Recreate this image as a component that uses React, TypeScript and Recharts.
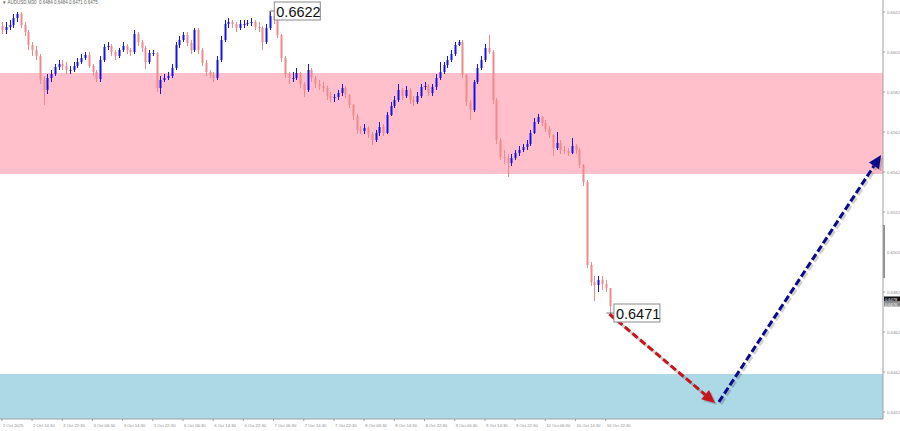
import { ComposedChart, Bar, XAxis, YAxis, ReferenceArea, ReferenceLine, ReferenceDot } from "recharts";

// AUDUSD 30-min candles, two bars per candle
const closes = [
  0.6613, 0.66145, 0.66155, 0.6619, 0.6621, 0.66155, 0.6612, 0.66055, 0.6603, 0.66,
  0.6588, 0.6583, 0.6589, 0.6591, 0.65945, 0.6596, 0.6595, 0.6593, 0.6593, 0.6595,
  0.6597, 0.6599, 0.66005, 0.6595, 0.6592, 0.65885, 0.6598, 0.66045, 0.6605, 0.6602,
  0.66, 0.6603, 0.6605, 0.6603, 0.6602, 0.6611, 0.6607, 0.6604, 0.6597, 0.66015,
  0.66015, 0.6584, 0.6588, 0.6589, 0.659, 0.6594, 0.66055, 0.6608, 0.66105, 0.66065,
  0.6603, 0.6613, 0.6603, 0.65965, 0.6592, 0.65905, 0.6589, 0.6598, 0.6608, 0.6616,
  0.6617, 0.6616, 0.6614, 0.6616, 0.6616, 0.66165, 0.6617, 0.66145, 0.6614, 0.6607,
  0.6614, 0.662, 0.6618, 0.66105, 0.6599, 0.6591, 0.6589, 0.6589, 0.65915, 0.6586,
  0.6583, 0.6593, 0.6589, 0.6586, 0.6585, 0.6584, 0.658, 0.6579, 0.65795, 0.65815,
  0.6584, 0.65805, 0.65755, 0.657, 0.6563, 0.65625, 0.6564, 0.6561, 0.6558, 0.65615,
  0.65645, 0.65615, 0.65705, 0.6575, 0.6578, 0.6583, 0.658, 0.6583, 0.6578, 0.6577,
  0.658, 0.65845, 0.6585, 0.65815, 0.65845, 0.6589, 0.6592, 0.65955, 0.6598, 0.6601,
  0.66055, 0.6607, 0.65905, 0.6577, 0.6573, 0.6587, 0.6594, 0.6598, 0.6604, 0.6602,
  0.6578, 0.6558, 0.65495, 0.6549, 0.65465, 0.6549, 0.65515, 0.6553, 0.65545, 0.6556,
  0.65615, 0.6567, 0.65695, 0.65665, 0.65635, 0.65605, 0.6554, 0.65565, 0.6553, 0.65525,
  0.65515, 0.6555, 0.6553, 0.65455, 0.6537, 0.64955, 0.6487, 0.64855, 0.6488, 0.6486,
  0.6484, 0.6475,
];

const highs = [
  0.6617, 0.6617, 0.6618, 0.6621, 0.6622, 0.6622, 0.6617, 0.6613, 0.6607, 0.6605,
  0.6601, 0.659, 0.6591, 0.6593, 0.6596, 0.6598, 0.6598, 0.6597, 0.6595, 0.6597,
  0.6599, 0.6601, 0.6602, 0.6602, 0.6596, 0.6593, 0.66, 0.6606, 0.6607, 0.6606,
  0.6603, 0.6604, 0.6607, 0.6606, 0.6604, 0.6613, 0.6612, 0.6608, 0.6605, 0.6603,
  0.6603, 0.6602, 0.659, 0.6591, 0.6592, 0.6596, 0.6607, 0.661, 0.6612, 0.6612,
  0.6608, 0.6614, 0.6614, 0.6604, 0.6598, 0.6593, 0.6592, 0.66, 0.661, 0.6618,
  0.6619, 0.6618, 0.6617, 0.6618, 0.6618, 0.6618, 0.6619, 0.6618, 0.6617, 0.6615,
  0.6616, 0.6622, 0.6621, 0.6619, 0.6611, 0.66, 0.6592, 0.6592, 0.6594, 0.6592,
  0.6587, 0.6596, 0.6594, 0.659, 0.6588, 0.6587, 0.6585, 0.6582, 0.6581, 0.6583,
  0.6586, 0.6585, 0.6581, 0.6576, 0.6571, 0.6565, 0.6566, 0.6565, 0.6562, 0.6563,
  0.6567, 0.6566, 0.6572, 0.6577, 0.658, 0.6586, 0.6584, 0.6585, 0.6584, 0.658,
  0.6582, 0.6586, 0.6587, 0.6586, 0.6586, 0.6591, 0.6597, 0.6597, 0.66, 0.6603,
  0.6607, 0.6608, 0.6608, 0.6591, 0.6578, 0.6588, 0.6596, 0.66, 0.6606, 0.66105,
  0.6603, 0.6579, 0.6559, 0.6553, 0.6551, 0.6551, 0.6553, 0.6555, 0.6556, 0.6558,
  0.6563, 0.6569, 0.6571, 0.657, 0.6568, 0.6565, 0.6561, 0.6562, 0.6558, 0.6555,
  0.6554, 0.6559, 0.6556, 0.6554, 0.6546, 0.6538, 0.6497, 0.649, 0.649, 0.649,
  0.6488, 0.6484,
];

const lows = [
  0.6611, 0.6611, 0.6613, 0.6614, 0.6617, 0.6614, 0.661, 0.6603, 0.66, 0.6598,
  0.6586, 0.65755, 0.6581, 0.6587, 0.659, 0.6593, 0.6593, 0.6591, 0.6591, 0.6592,
  0.6594, 0.6596, 0.6598, 0.6594, 0.659, 0.6587, 0.6587, 0.6597, 0.6603, 0.66,
  0.6598, 0.6599, 0.6602, 0.6601, 0.66, 0.6601, 0.6605, 0.6602, 0.65935, 0.6596,
  0.66, 0.6582, 0.6581, 0.6587, 0.6588, 0.6589, 0.6593, 0.6604, 0.6607, 0.6605,
  0.6601, 0.6602, 0.6601, 0.6595, 0.659, 0.6589, 0.6587, 0.6588, 0.6597, 0.6607,
  0.6614, 0.6614, 0.6612, 0.6613, 0.6614, 0.6615, 0.6615, 0.6613, 0.6612, 0.6603,
  0.6606, 0.6613, 0.6616, 0.6609, 0.6597, 0.6589, 0.6586, 0.6587, 0.6588, 0.6584,
  0.65795, 0.6582, 0.6587, 0.6584, 0.6583, 0.6582, 0.6578, 0.6577, 0.6577, 0.6578,
  0.658, 0.6579, 0.6574, 0.6568, 0.6561, 0.6561, 0.6561, 0.6559, 0.65555, 0.6557,
  0.656, 0.656, 0.6561, 0.657, 0.6574, 0.6577, 0.6578, 0.6579, 0.6576, 0.6575,
  0.6576, 0.6579, 0.6583, 0.658, 0.658, 0.6583, 0.6588, 0.6591, 0.6594, 0.6597,
  0.66, 0.6605, 0.6589, 0.6575, 0.6568, 0.6572, 0.6586, 0.6593, 0.6597, 0.6601,
  0.6576, 0.6556, 0.6548, 0.6546, 0.65395, 0.6545, 0.6548, 0.655, 0.6552, 0.6553,
  0.6555, 0.6561, 0.6566, 0.6565, 0.6562, 0.6559, 0.655, 0.6553, 0.6551, 0.6551,
  0.655, 0.6551, 0.6551, 0.6544, 0.6535, 0.6494, 0.6485, 0.64775, 0.6482, 0.6483,
  0.6482, 0.6471,
];

const firstOpen = 0.6615;
const totalSlots = 234;
const slotsPerLabel = 8;

const timeLabels = [
  "2 Oct 2025", "2 Oct 14:30", "2 Oct 22:30", "3 Oct 06:30", "3 Oct 14:30", "3 Oct 22:30",
  "6 Oct 06:30", "6 Oct 14:30", "6 Oct 22:30", "7 Oct 06:30", "7 Oct 14:30", "7 Oct 22:30",
  "8 Oct 06:30", "8 Oct 14:30", "8 Oct 22:30", "9 Oct 06:30", "9 Oct 14:30", "9 Oct 22:30",
  "10 Oct 06:30", "10 Oct 14:30", "10 Oct 22:30",
];

const priceTicks = [
  0.6422, 0.6432, 0.6442, 0.6452, 0.6462, 0.6472, 0.6482, 0.6492, 0.6502, 0.6512, 0.6522,
  0.6532, 0.6542, 0.6552, 0.6562, 0.6572, 0.6582, 0.6592, 0.6602, 0.6612, 0.6622,
];

const priceDomain = [0.64185, 0.6628];
const sellZone = [0.6541, 0.65915];
const buyZone = [0.64185, 0.6441];
const scrollMark = [0.6489, 0.65155];

const forecastDown = [{ slot: 161, price: 0.6471 }, { slot: 189, price: 0.64265 }];
const forecastUp = [{ slot: 190, price: 0.6427 }, { slot: 233, price: 0.65505 }];

const extremes = [
  { slot: 71, price: 0.6622, text: "0.6622", bend: true },
  { slot: 161, price: 0.6471, text: "0.6471", bend: false },
];

const priceMarks = [
  { price: 0.64785, text: "0.6478", bg: "#111111" },
  { price: 0.6476, text: "0.6476", bg: "#8c8c8c" },
];

const headerText = "\u25BC AUDUSD,M30  0.6484 0.6484 0.6471 0.6475";

const data = Array.from({ length: totalSlots }, (_, i) => {
  if (i < closes.length) {
    const open = i === 0 ? firstOpen : closes[i - 1];
    return { slot: i, open, close: closes[i], high: highs[i], low: lows[i], range: [lows[i], highs[i]] };
  }
  return { slot: i };
});

const tickSlots = timeLabels.map((_, i) => i * slotsPerLabel);
const lastSlot = totalSlots - 1;

const Candle = (props: any) => {
  const { x, y, width, height, payload } = props;
  if (!payload || payload.open == null || isNaN(y) || isNaN(height)) return null;
  const { open, close, high, low } = payload;
  const top = Math.min(y, y + height);
  const h = Math.abs(height);
  const k = h / (high - low || 1e-9);
  const cx = Math.round(x + width / 2) + 0.5;
  const yOf = (v: number) => top + (high - v) * k;
  const up = close >= open;
  const color = up ? "#1414e6" : "#f08a8a";
  const bt = yOf(Math.max(open, close));
  const bb = yOf(Math.min(open, close));
  return (
    <g>
      <line x1={cx} x2={cx} y1={top} y2={top + h} stroke={color} strokeWidth={1} />
      <rect x={cx - 1} y={bt} width={2} height={Math.max(1, bb - bt)} fill={color} />
    </g>
  );
};

const arrowShape = (color: string) => (props: any) => {
  const { x1, y1, x2, y2 } = props;
  const ang = Math.atan2(y2 - y1, x2 - x1);
  const len = 13;
  const half = 6;
  const bx = x2 - len * Math.cos(ang);
  const by = y2 - len * Math.sin(ang);
  const px = -Math.sin(ang) * half;
  const py = Math.cos(ang) * half;
  const head = `${x2},${y2} ${bx + px},${by + py} ${bx - px},${by - py}`;
  return (
    <g>
      <line x1={x1 + 2} y1={y1 + 2} x2={bx + 2} y2={by + 2} stroke="rgba(0,0,0,0.18)" strokeWidth={3} strokeDasharray="7 3" />
      <polygon points={`${x2 + 2},${y2 + 2} ${bx + px + 2},${by + py + 2} ${bx - px + 2},${by - py + 2}`} fill="rgba(0,0,0,0.18)" />
      <line x1={x1} y1={y1} x2={bx} y2={by} stroke={color} strokeWidth={3} strokeDasharray="7 3" />
      <polygon points={head} fill={color} />
    </g>
  );
};

const PriceBox = (text: string, bend: boolean) => (props: any) => {
  const { cx, cy } = props;
  const bx = cx + 4.5;
  return (
    <g>
      {bend ? (
        <polyline points={`${cx},${cy + 5} ${cx},${cy - 1} ${bx},${cy - 1}`} fill="none" stroke="#777" strokeWidth={1} />
      ) : (
        <line x1={cx - 3} y1={cy - 1} x2={bx} y2={cy - 1} stroke="#777" strokeWidth={1} />
      )}
      <rect x={bx} y={cy - 10} width={46} height={18} fill="#ffffff" stroke="#8a8a8a" strokeWidth={1} />
      <text x={bx + 2} y={cy + 4.5} fontSize={14.5} fill="#111" fontFamily="Liberation Sans, Arial, sans-serif">
        {text}
      </text>
    </g>
  );
};

const markLabel = (text: string, bg: string) => (props: any) => {
  const { viewBox } = props;
  const x = viewBox.x + viewBox.width;
  const y = viewBox.y;
  return (
    <g>
      <rect x={x + 1} y={y - 2.5} width={16} height={5} fill={bg} />
      <text x={x + 2} y={y + 1.5} fontSize={4} fill="#ffffff" fontFamily="Liberation Sans, Arial, sans-serif">
        {text}
      </text>
    </g>
  );
};

const ScrollShape = (props: any) => {
  const { x, y, width, height } = props;
  return <rect x={x + width} y={y} width={2} height={height} fill="#8f8f8f" />;
};

const TimeTick = (props: any) => {
  const { x, y, payload } = props;
  return (
    <text x={x + 1} y={y + 4} fontSize={4.2} fill="#8c8c8c" textAnchor="start" fontFamily="Liberation Sans, Arial, sans-serif">
      {timeLabels[payload.value / slotsPerLabel]}
    </text>
  );
};

const PriceTick = (props: any) => {
  const { x, y, payload } = props;
  return (
    <text x={x} y={y + 1.5} fontSize={4.3} fill="#8c8c8c" textAnchor="start" fontFamily="Liberation Sans, Arial, sans-serif">
      {Number(payload.value).toFixed(4)}
    </text>
  );
};

export default function App() {
  return (
    <div style={{ position: "absolute", left: 0, top: 0, width: 900, height: 431, background: "#ffffff", fontFamily: "Liberation Sans, Arial, sans-serif" }}>
      <ComposedChart
        width={900}
        height={431}
        data={data}
        margin={{ top: 0, right: 0, bottom: 0, left: 0 }}
        barCategoryGap={0}
      >
        <XAxis
          dataKey="slot"
          type="category"
          ticks={tickSlots}
          interval={0}
          height={12}
          tickSize={2}
          stroke="#a0a0a0"
          tick={<TimeTick />}
        />
        <YAxis
          orientation="right"
          type="number"
          domain={priceDomain}
          allowDataOverflow
          ticks={priceTicks}
          width={17}
          tickSize={2}
          stroke="#a0a0a0"
          tick={<PriceTick />}
        />
        <ReferenceArea y1={sellZone[0]} y2={sellZone[1]} fill="#ffc0cb" fillOpacity={1} stroke="none" />
        <ReferenceArea y1={buyZone[0]} y2={buyZone[1]} fill="#add8e6" fillOpacity={1} stroke="none" />
        <ReferenceArea x1={lastSlot} x2={lastSlot} y1={scrollMark[0]} y2={scrollMark[1]} ifOverflow="visible" shape={ScrollShape} />
        <Bar dataKey="range" shape={<Candle />} isAnimationActive={false} />
        <ReferenceLine
          segment={forecastDown.map((p) => ({ x: p.slot, y: p.price }))}
          stroke="#c8141c"
          ifOverflow="visible"
          shape={arrowShape("#c8141c")}
        />
        <ReferenceLine
          segment={forecastUp.map((p) => ({ x: p.slot, y: p.price }))}
          stroke="#0a0a8c"
          ifOverflow="visible"
          shape={arrowShape("#0a0a8c")}
        />
        {extremes.map((e) => (
          <ReferenceDot key={e.text} x={e.slot} y={e.price} ifOverflow="visible" shape={PriceBox(e.text, e.bend)} />
        ))}
        {priceMarks.map((m) => (
          <ReferenceLine key={m.text} y={m.price} stroke="none" ifOverflow="visible" label={markLabel(m.text, m.bg)} />
        ))}
      </ComposedChart>
      <div style={{ position: "absolute", left: 2, top: 1, fontSize: 4.5, color: "#666", lineHeight: 1, whiteSpace: "pre" }}>
        {headerText}
      </div>
    </div>
  );
}
